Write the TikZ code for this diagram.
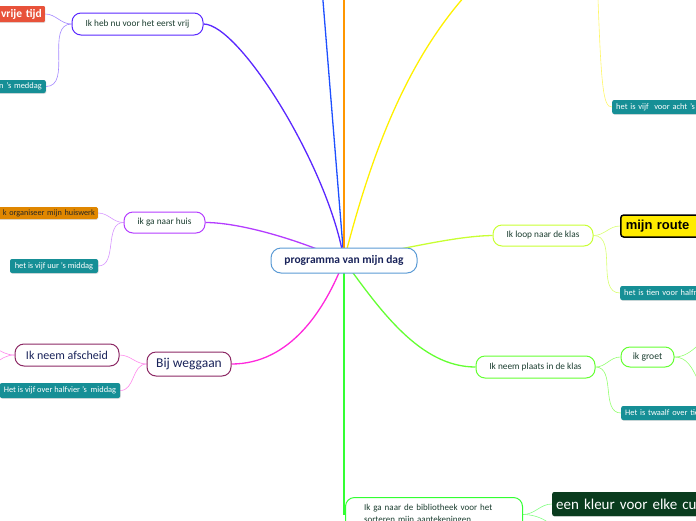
\documentclass[tikz,border=0pt]{standalone}
\usepackage{fontspec}
\setmainfont{Carlito}
\newfontfamily\routefont{Liberation Sans}
\usetikzlibrary{backgrounds,shadows}

\definecolor{hoofdrand}{RGB}{91,155,213}
\definecolor{navy}{RGB}{25,35,90}
\definecolor{tekstgroen}{RGB}{28,62,48}
\definecolor{violet}{RGB}{90,40,255}
\definecolor{blauw}{RGB}{30,80,255}
\definecolor{oranje}{RGB}{255,150,0}
\definecolor{geel}{RGB}{255,240,0}
\definecolor{paars}{RGB}{180,60,255}
\definecolor{magenta}{RGB}{255,40,220}
\definecolor{groen}{RGB}{50,255,50}
\definecolor{geelgroen}{RGB}{200,255,50}
\definecolor{lichtgroen}{RGB}{100,255,50}
\definecolor{bordeaux}{RGB}{140,40,100}
\definecolor{tealkleur}{RGB}{22,143,150}
\definecolor{rood}{RGB}{232,82,58}
\definecolor{oranjevak}{RGB}{224,135,0}
\definecolor{donkergroen}{RGB}{10,60,30}
\definecolor{routegeel}{RGB}{255,235,0}

\tikzset{
  tak/.style={draw, line width=1pt, fill=white, rounded corners=9pt, inner sep=0pt,
    text=tekstgroen, font=\fontsize{9.3}{11}\selectfont},
  tealvak/.style={fill=tealkleur, rounded corners=2pt, text=white, inner xsep=4pt, inner ysep=0pt,
    minimum height=14pt, font=\fontsize{8.4}{9}\selectfont,
    drop shadow={opacity=0.25, shadow xshift=0.6pt, shadow yshift=-0.8pt}},
  hoofdlijn/.style={line width=1.3pt},
  zijlijn/.style={line width=0.6pt},
}

\begin{document}
\begin{tikzpicture}[x=1pt,y=1pt]
\useasboundingbox (0,0) rectangle (696,-520);

% Centrale knoop
\node[tak, draw=hoofdrand, text=navy, font=\fontsize{11.5}{13}\selectfont\bfseries,
  minimum width=146pt, minimum height=25pt, rounded corners=10pt] (hoofd) at (344,-260.5) {programma van mijn dag};

% Links boven
\node[tak, draw=violet, minimum width=131pt, minimum height=22pt] (vrij) at (137.5,-24) {Ik heb nu voor het eerst vrij};
\node[fill=rood, text=white, font=\fontsize{11.5}{12}\selectfont\bfseries, text width=80pt, align=right,
  anchor=east, minimum height=16pt, inner xsep=3pt, inner ysep=0pt, rounded corners=1pt,
  drop shadow={opacity=0.25, shadow xshift=0.6pt, shadow yshift=-0.8pt}] (vrijetijd) at (45,-14) {vrije tijd};
\node[tealvak, text width=60pt, align=right, anchor=east, minimum height=13pt] (meddag) at (46,-86.5) {n 's meddag};

% Naar huis
\node[tak, draw=paars, minimum width=81pt, minimum height=21pt] (huis) at (164.5,-222.5) {ik ga naar huis};
\node[fill=oranjevak, text=black!85, font=\fontsize{8.2}{9}\selectfont, text width=110pt, align=right,
  anchor=east, minimum height=12pt, inner xsep=3pt, inner ysep=0pt, rounded corners=1.5pt,
  drop shadow={opacity=0.25, shadow xshift=0.6pt, shadow yshift=-0.8pt}] (huiswerk) at (98,-213) {k organiseer mijn huiswerk};
\node[tealvak, minimum width=88pt] (vijfuur) at (54,-266) {het is vijf uur 's middag};

% Bij weggaan
\node[tak, draw=bordeaux, text=navy, font=\fontsize{13.5}{15}\selectfont, minimum width=84pt, minimum height=24pt] (weg) at (189,-364) {Bij weggaan};
\node[tak, draw=bordeaux, text=navy, font=\fontsize{12}{14}\selectfont, minimum width=104pt, minimum height=22pt] (afscheid) at (67,-355) {Ik neem afscheid};
\node[tealvak, minimum width=120pt, minimum height=15pt] (halfvier) at (60,-390.5) {Het is vijf over halfvier 's\ \ middag};

% Rechts boven
\node[tealvak, text width=90pt, align=left, anchor=west] (achtuur) at (612,-107) {het is vijf\ \ voor acht 's m};

% Naar de klas
\node[tak, draw=geelgroen, minimum width=100pt, minimum height=21pt] (loop) at (543,-235.5) {Ik loop naar de klas};
\node[fill=routegeel, draw=black, line width=1.5pt, rounded corners=3pt, anchor=west, minimum height=22pt,
  text width=70pt, align=left, inner xsep=5pt, inner ysep=0pt, font=\routefont\fontsize{13}{14}\selectfont\bfseries,
  drop shadow={opacity=0.25, shadow xshift=0.6pt, shadow yshift=-0.8pt}] (route) at (620,-226) {mijn route};
\node[tealvak, text width=90pt, align=left, anchor=west] (halfne) at (620,-293) {het is tien voor halfne};

% Plaats in de klas
\node[tak, draw=lichtgroen, minimum width=119pt, minimum height=22pt] (plaats) at (535.5,-367) {Ik neem plaats in de klas};
\node[tak, draw=lichtgroen, font=\fontsize{9.6}{11}\selectfont, minimum width=53pt, minimum height=20pt] (groet) at (647.5,-357) {ik groet};
\node[tealvak, text width=90pt, align=left, anchor=west] (tiener) at (621,-413) {Het is twaalf over tie};

% Bibliotheek
\node[tak, draw=groen, anchor=north west, text width=140pt, align=left, inner xsep=18.5pt, inner ysep=6pt,
  minimum height=34pt, font=\fontsize{9}{12}\selectfont] (biblio) at (345,-497) {Ik ga naar de bibliotheek voor het\\sorteren mijn aantekeningen};
\node[fill=donkergroen, text=white, rounded corners=2pt, anchor=west, minimum height=24pt, text width=150pt,
  align=left, inner xsep=4pt, inner ysep=0pt, font=\fontsize{15}{16}\selectfont,
  drop shadow={opacity=0.25, shadow xshift=0.6pt, shadow yshift=-0.8pt}] (kleur) at (552,-504) {een kleur voor elke cu};

% Losse eindpunten buiten beeld
\coordinate (blauwtop) at (320.5,30);
\coordinate (oranjetop) at (344,30);
\coordinate (geeltop) at (480,20);
\coordinate (geelbron) at (597,30);
\coordinate (groetboven) at (720,-335);
\coordinate (groetonder) at (720,-400);
\coordinate (afscheidboven) at (-25,-340);
\coordinate (afscheidonder) at (-25,-372);
\coordinate (biblioonder) at (560,-545);

% Verbindingen
\begin{scope}[on background layer]
\draw[hoofdlijn, blauw] (hoofd.center) -- (blauwtop);
\draw[hoofdlijn, oranje] (hoofd.center) -- (oranjetop);
\draw[hoofdlijn, geel] (hoofd.center) .. controls (372,-150) and (410,-50) .. (geeltop);
\draw[hoofdlijn, violet] (hoofd.center) .. controls (330,-170) and (240,-24) .. (vrij.east);
\draw[hoofdlijn, paars] (hoofd.center) .. controls (300,-240) and (240,-222.5) .. (huis.east);
\draw[hoofdlijn, magenta] (hoofd.center) .. controls (325,-310) and (290,-364) .. (weg.east);
\draw[hoofdlijn, groen] (hoofd.center) |- (biblio.west);
\draw[hoofdlijn, geelgroen] (hoofd.center) .. controls (420,-245) and (460,-236) .. (loop.west);
\draw[hoofdlijn, lichtgroen] (hoofd.center) .. controls (380,-310) and (420,-367) .. (plaats.west);

\draw[zijlijn, violet!55] (vrij.west) to[out=180,in=0] (vrijetijd.east);
\draw[zijlijn, violet!55] (vrij.west) to[out=180,in=0] (meddag.east);
\draw[zijlijn, paars!55] (huis.west) to[out=180,in=0] (huiswerk.east);
\draw[zijlijn, paars!55] (huis.west) to[out=180,in=0] (vijfuur.east);
\draw[zijlijn, magenta!55] (weg.west) to[out=180,in=0] (afscheid.east);
\draw[zijlijn, magenta!55] (weg.west) to[out=180,in=0] (halfvier.east);
\draw[zijlijn, magenta!55] (afscheid.west) to[out=180,in=0] (afscheidboven);
\draw[zijlijn, magenta!55] (afscheid.west) to[out=180,in=0] (afscheidonder);
\draw[zijlijn, geel!60] (geelbron) .. controls (601,-90) and (603,-107) .. (achtuur.west);
\draw[zijlijn, geelgroen!70] (loop.east) to[out=0,in=180] (route.west);
\draw[zijlijn, geelgroen!70] (loop.east) to[out=0,in=180] (halfne.west);
\draw[zijlijn, lichtgroen!70] (plaats.east) to[out=0,in=180] (groet.west);
\draw[zijlijn, lichtgroen!70] (plaats.east) to[out=0,in=180] (tiener.west);
\draw[zijlijn, lichtgroen!70] (groet.east) to[out=0,in=180] (groetboven);
\draw[zijlijn, lichtgroen!70] (groet.east) to[out=0,in=180] (groetonder);
\draw[zijlijn, groen!60] (biblio.east) to[out=0,in=180] (kleur.west);
\draw[zijlijn, groen!60] (biblio.east) to[out=0,in=90] (biblioonder);
\end{scope}

\end{tikzpicture}
\end{document}
